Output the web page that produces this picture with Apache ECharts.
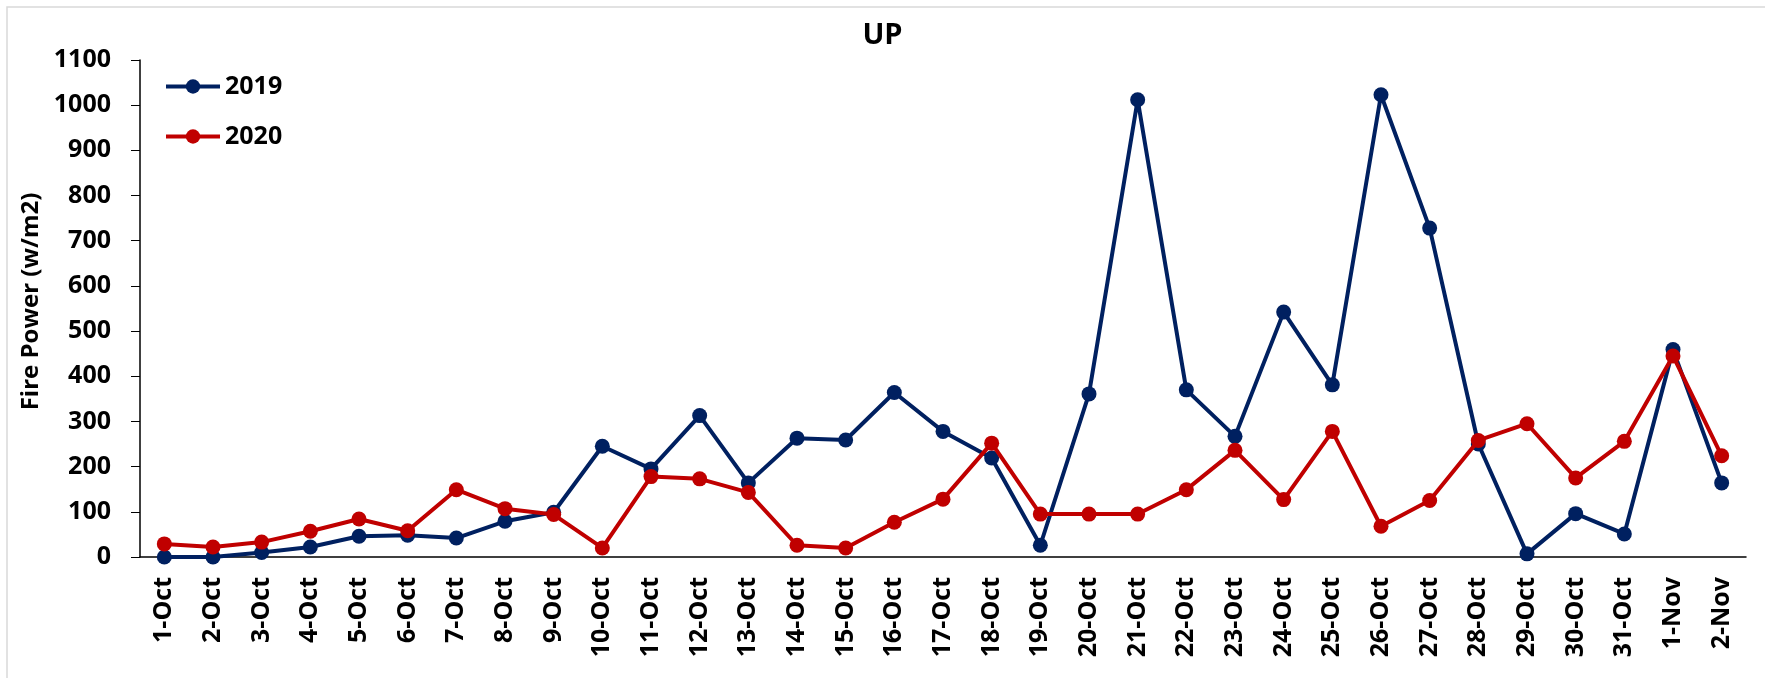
<!DOCTYPE html>
<html>
<head>
<meta charset="utf-8">
<script src="https://cdn.jsdelivr.net/npm/echarts@6/dist/echarts.min.js"></script>
<style>
  html, body { margin: 0; padding: 0; background: #fff; }
  #chart { width: 1765px; height: 678px; }
</style>
</head>
<body>
<div id="chart"></div>
<script>
// dates on the x axis
var days = ['1-Oct','2-Oct','3-Oct','4-Oct','5-Oct','6-Oct','7-Oct','8-Oct','9-Oct','10-Oct',
  '11-Oct','12-Oct','13-Oct','14-Oct','15-Oct','16-Oct','17-Oct','18-Oct','19-Oct','20-Oct',
  '21-Oct','22-Oct','23-Oct','24-Oct','25-Oct','26-Oct','27-Oct','28-Oct','29-Oct','30-Oct',
  '31-Oct','1-Nov','2-Nov'];

// fire power
var fire2019 = [0, 0, 10, 22, 46, 48, 42, 79, 99, 245,
  195, 313, 164, 263, 259, 364, 278, 219, 26, 361,
  1012, 370, 267, 542, 381, 1023, 728, 250, 7, 96,
  51, 459, 164];
var fire2020 = [29, 22, 33, 57, 84, 58, 149, 107, 94, 20,
  178, 173, 143, 26, 20, 77, 128, 252, 95, 95,
  95, 149, 236, 127, 278, 68, 125, 258, 295, 175,
  256, 445, 224];

var seriesNames = ['2019', '2020'];
var seriesColors = ['#002060', '#C00000'];

var myChart = echarts.init(document.getElementById('chart'));

var font = '"Open Sans", "Noto Sans", sans-serif';

function lineSeries(name, data, color) {
  return {
    name: name,
    type: 'line',
    data: data,
    symbol: 'circle',
    symbolSize: 15,
    lineStyle: { color: color, width: 4 },
    itemStyle: { color: color },
    z: name === '2020' ? 3 : 2
  };
}

var option = {
  animation: false,
  backgroundColor: '#fff',
  graphic: [{
    type: 'rect',
    shape: { x: 7, y: 7, width: 1760, height: 675 },
    style: { fill: 'none', stroke: '#d9d9d9', lineWidth: 1.5 }
  }],
  title: {
    text: 'UP',
    left: 'center',
    top: 16,
    textStyle: { fontFamily: font, fontWeight: 'bold', fontSize: 29, color: '#000' }
  },
  legend: {
    orient: 'vertical',
    left: 159,
    top: 69,
    itemWidth: 54,
    itemHeight: 18,
    itemGap: 25,
    data: seriesNames,
    lineStyle: { width: 4 },
    textStyle: { fontFamily: font, fontWeight: 'bold', fontSize: 25, color: '#000' }
  },
  grid: {
    left: 140,
    right: 19,
    top: 60,
    bottom: 121,
    containLabel: false
  },
  xAxis: {
    type: 'category',
    data: days,
    boundaryGap: true,
    axisLine: { lineStyle: { color: '#000', width: 1.5 } },
    axisTick: { show: false },
    axisLabel: {
      rotate: 90,
      margin: 20,
      interval: 0,
      color: '#000',
      fontFamily: font,
      fontWeight: 'bold',
      fontSize: 25
    }
  },
  yAxis: {
    type: 'value',
    min: 0,
    max: 1100,
    interval: 100,
    name: 'Fire Power (w/m2)',
    nameLocation: 'middle',
    nameGap: 96,
    nameTextStyle: {
      fontFamily: font, fontWeight: 'bold', fontSize: 24, color: '#000',
      padding: [0, 0, 0, 14]
    },
    splitLine: { show: false },
    axisLine: { show: true, lineStyle: { color: '#000', width: 1.5 } },
    axisTick: { show: true, inside: false, length: 9, lineStyle: { color: '#000' } },
    axisLabel: {
      margin: 29,
      color: '#000',
      fontFamily: font,
      fontWeight: 'bold',
      fontSize: 25,
      formatter: function (v) { return String(v); }
    }
  },
  series: [
    lineSeries(seriesNames[0], fire2019, seriesColors[0]),
    lineSeries(seriesNames[1], fire2020, seriesColors[1])
  ]
};

myChart.setOption(option);
</script>
</body>
</html>
